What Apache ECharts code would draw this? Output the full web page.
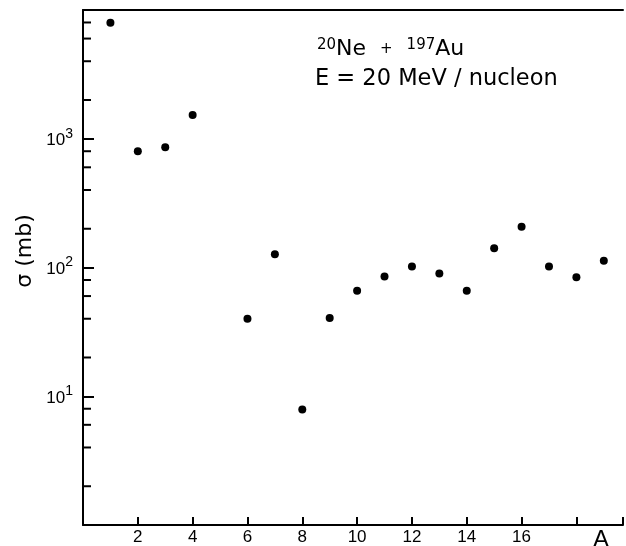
<!DOCTYPE html>
<html>
<head>
<meta charset="utf-8">
<script src="https://cdn.jsdelivr.net/npm/echarts@6/dist/echarts.min.js"></script>
<style>html,body{margin:0;padding:0;background:#fff;}#c{width:626px;height:546px;}</style>
</head>
<body>
<div id="c"></div>
<script>
// Mass number A and cross-section sigma (mb)
const massNumbers = [1, 2, 3, 4, 6, 7, 8, 9, 10, 11, 12, 13, 14, 15, 16, 17, 18, 19];
const sigmaValues = [7960, 800, 860, 1530, 40, 127, 7.9, 40.5, 66, 85, 102, 90, 66, 141, 207, 102, 84, 113];
const xTickLabels = ['2', '4', '6', '8', '10', '12', '14', '16'];
const yDecadeLabels = [1, 2, 3];
const minorTickValues = [2, 4, 6, 8, 20, 40, 60, 80, 200, 400, 600, 800, 2000, 4000, 6000, 8000];

const FONT = 'Liberation Sans';
const TFONT = 'DejaVu Sans';
const chart = echarts.init(document.getElementById('c'), null, {renderer: 'canvas'});

const points = massNumbers.map((a, i) => [a, sigmaValues[i]]);

chart.setOption({
  animation: false,
  backgroundColor: '#fff',
  grid: {left: 83, top: 10, right: 0, bottom: 21, containLabel: false},
  xAxis: [{
    type: 'value', min: 0, max: 19.7, interval: 2,
    axisLine: {lineStyle: {color: '#000', width: 2}},
    axisTick: {inside: true, length: 8, lineStyle: {color: '#000', width: 2}},
    splitLine: {show: false},
    axisLabel: {
      margin: 4, color: '#000', fontFamily: FONT, fontSize: 17,
      formatter: v => xTickLabels.indexOf(String(v)) >= 0 ? String(v) : ''
    }
  }, {
    type: 'value', position: 'top', min: 0, max: 19.7,
    axisLine: {show: true, onZero: false, lineStyle: {color: '#000', width: 2}},
    axisTick: {show: false}, axisLabel: {show: false}, splitLine: {show: false}
  }],
  yAxis: {
    type: 'log', logBase: 10, min: 1, max: 10000,
    axisLine: {show: true, lineStyle: {color: '#000', width: 2}},
    axisTick: {inside: true, length: 11, lineStyle: {color: '#000', width: 2}},
    splitLine: {show: false},
    axisLabel: {
      margin: 10, color: '#000', fontFamily: FONT,
      formatter: v => {
        const e = Math.round(Math.log10(v));
        if (yDecadeLabels.indexOf(e) < 0) return '';
        return '{b|10}{s|' + e + '}';
      },
      rich: {
        b: {fontSize: 17, fontFamily: FONT, color: '#000', padding: [4, 0, 0, 0]},
        s: {fontSize: 14, fontFamily: FONT, color: '#000', padding: [0, 0, 10, 0]}
      }
    }
  },
  series: [{
    type: 'scatter',
    data: points,
    symbol: 'circle',
    symbolSize: 8,
    itemStyle: {color: '#000', opacity: 1}
  }, {
    type: 'custom',
    data: minorTickValues.map(v => [0, v]),
    silent: true,
    renderItem: (params, api) => {
      const p = api.coord([api.value(0), api.value(1)]);
      return {
        type: 'line',
        shape: {x1: p[0], y1: p[1], x2: p[0] + 8, y2: p[1]},
        style: {stroke: '#000', lineWidth: 2}
      };
    }
  }],
  graphic: [{
    type: 'text', x: 25, y: 251,
    rotation: Math.PI / 2,
    style: {text: 'σ (mb)', font: '22px "' + TFONT + '"', fill: '#000', textAlign: 'center', textVerticalAlign: 'middle'}
  }, {
    type: 'text', x: 601, y: 540,
    style: {text: 'A', font: '24px "' + FONT + '"', fill: '#000', textAlign: 'center', textVerticalAlign: 'middle'}
  }, {
    type: 'text', x: 317, y: 49,
    style: {
      text: '{s|20}{t|Ne  }{p|+}{t|  }{s|197}{t|Au}',
      textVerticalAlign: 'middle',
      rich: {
        s: {fontSize: 15, fontFamily: TFONT, fill: '#000', padding: [0, 0, 7, 0]},
        t: {fontSize: 22, fontFamily: TFONT, fill: '#000'},
        p: {fontSize: 15, fontFamily: TFONT, fill: '#000'}
      }
    }
  }, {
    type: 'text', x: 315, y: 79,
    style: {text: 'E = 20 MeV / nucleon', font: '22.5px "' + TFONT + '"', fill: '#000', textVerticalAlign: 'middle'}
  }]
});
</script>
</body>
</html>
